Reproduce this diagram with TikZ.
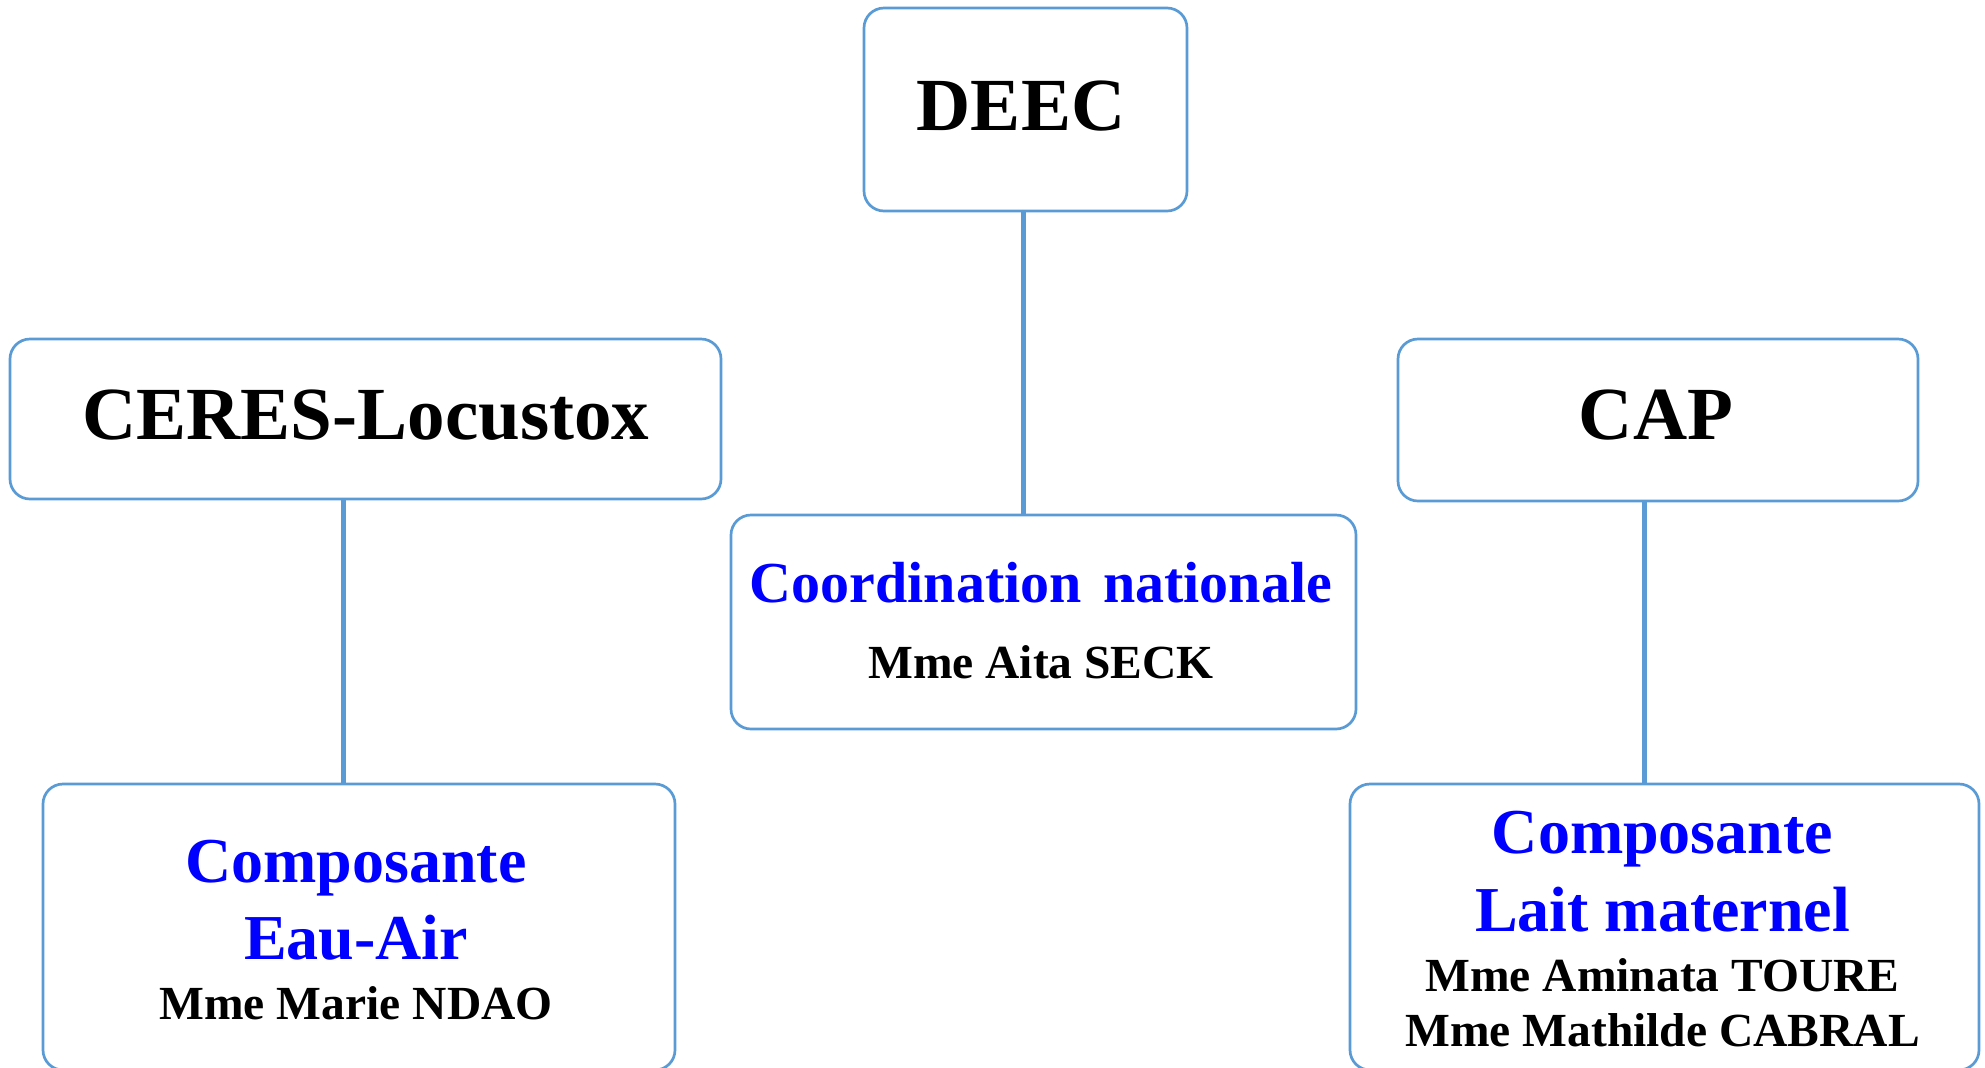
\documentclass[tikz,border=0pt]{standalone}
\usepackage{fontspec}
\setmainfont{Liberation Serif}
\definecolor{boxblue}{HTML}{5B9BD5}
\definecolor{txtblue}{HTML}{0000FF}
\begin{document}
\begin{tikzpicture}[x=0.5pt,y=-0.5pt,
  box/.style={draw=boxblue, line width=1.35pt, rounded corners=10pt, fill=white, inner sep=0pt},
  conn/.style={draw=boxblue, line width=2.5pt},
  txt/.style={anchor=base, inner sep=0pt, font=\bfseries},
  head/.style={txt, font=\fontsize{37.5}{45}\selectfont\bfseries},
  comp/.style={txt, text=txtblue, font=\fontsize{32}{38}\selectfont\bfseries},
  coordt/.style={txt, text=txtblue, font=\fontsize{29}{35}\selectfont\bfseries},
  who/.style={txt, font=\fontsize{23.75}{28}\selectfont\bfseries}
]
\useasboundingbox (0,0) rectangle (1985,1067);
\clip (0,0) rectangle (1985,1067);
\fill[white] (0,0) rectangle (1985,1067);

% boxes
\node[box, minimum width=161.5pt, minimum height=101.5pt] (deec) at (1025.5,109.5) {};
\node[box, minimum width=355.5pt, minimum height=80pt] (ceres) at (365.5,419) {};
\node[box, minimum width=260pt, minimum height=81pt] (cap) at (1658,420) {};
\node[box, minimum width=312.5pt, minimum height=107pt] (coord) at (1043.5,622) {};
\node[box, minimum width=316pt, minimum height=143pt] (eau) at (359,927) {};
\node[box, minimum width=314.5pt, minimum height=143pt] (lait) at (1664.5,927) {};

% connector columns
\coordinate (xdeec) at (1023,0);
\coordinate (xceres) at (343,0);
\coordinate (xcap) at (1644,0);
\draw[conn] (deec.south -| xdeec) -- (coord.north -| xdeec);
\draw[conn] (ceres.south -| xceres) -- (eau.north -| xceres);
\draw[conn] (cap.south -| xcap) -- (lait.north -| xcap);

% texts
\node[head] (deecT) at (1021,130) {DEEC};
\node[head] (ceresT) at (366,439) {CERES-Locustox};
\node[head] (capT) at (1656,439) {CAP};

\node[coordt] (coordT) at (1041,602) {Coordination\hspace{0.12em} nationale};
\node[who] (coordW) at (1041,678) {Mme Aita SECK};

\node[comp] (eauT1) at (356,882) {Composante};
\node[comp] (eauT2) at (356,959) {Eau-Air};
\node[who] (eauW) at (356,1019) {Mme Marie NDAO};

\node[comp] (laitT1) at (1662.5,853) {Composante};
\node[comp] (laitT2) at (1662.5,931) {Lait maternel};
\node[who] (laitW1) at (1662.5,991) {Mme Aminata TOURE};
\node[who] (laitW2) at (1662.5,1046.5) {Mme Mathilde CABRAL};
\end{tikzpicture}
\end{document}
